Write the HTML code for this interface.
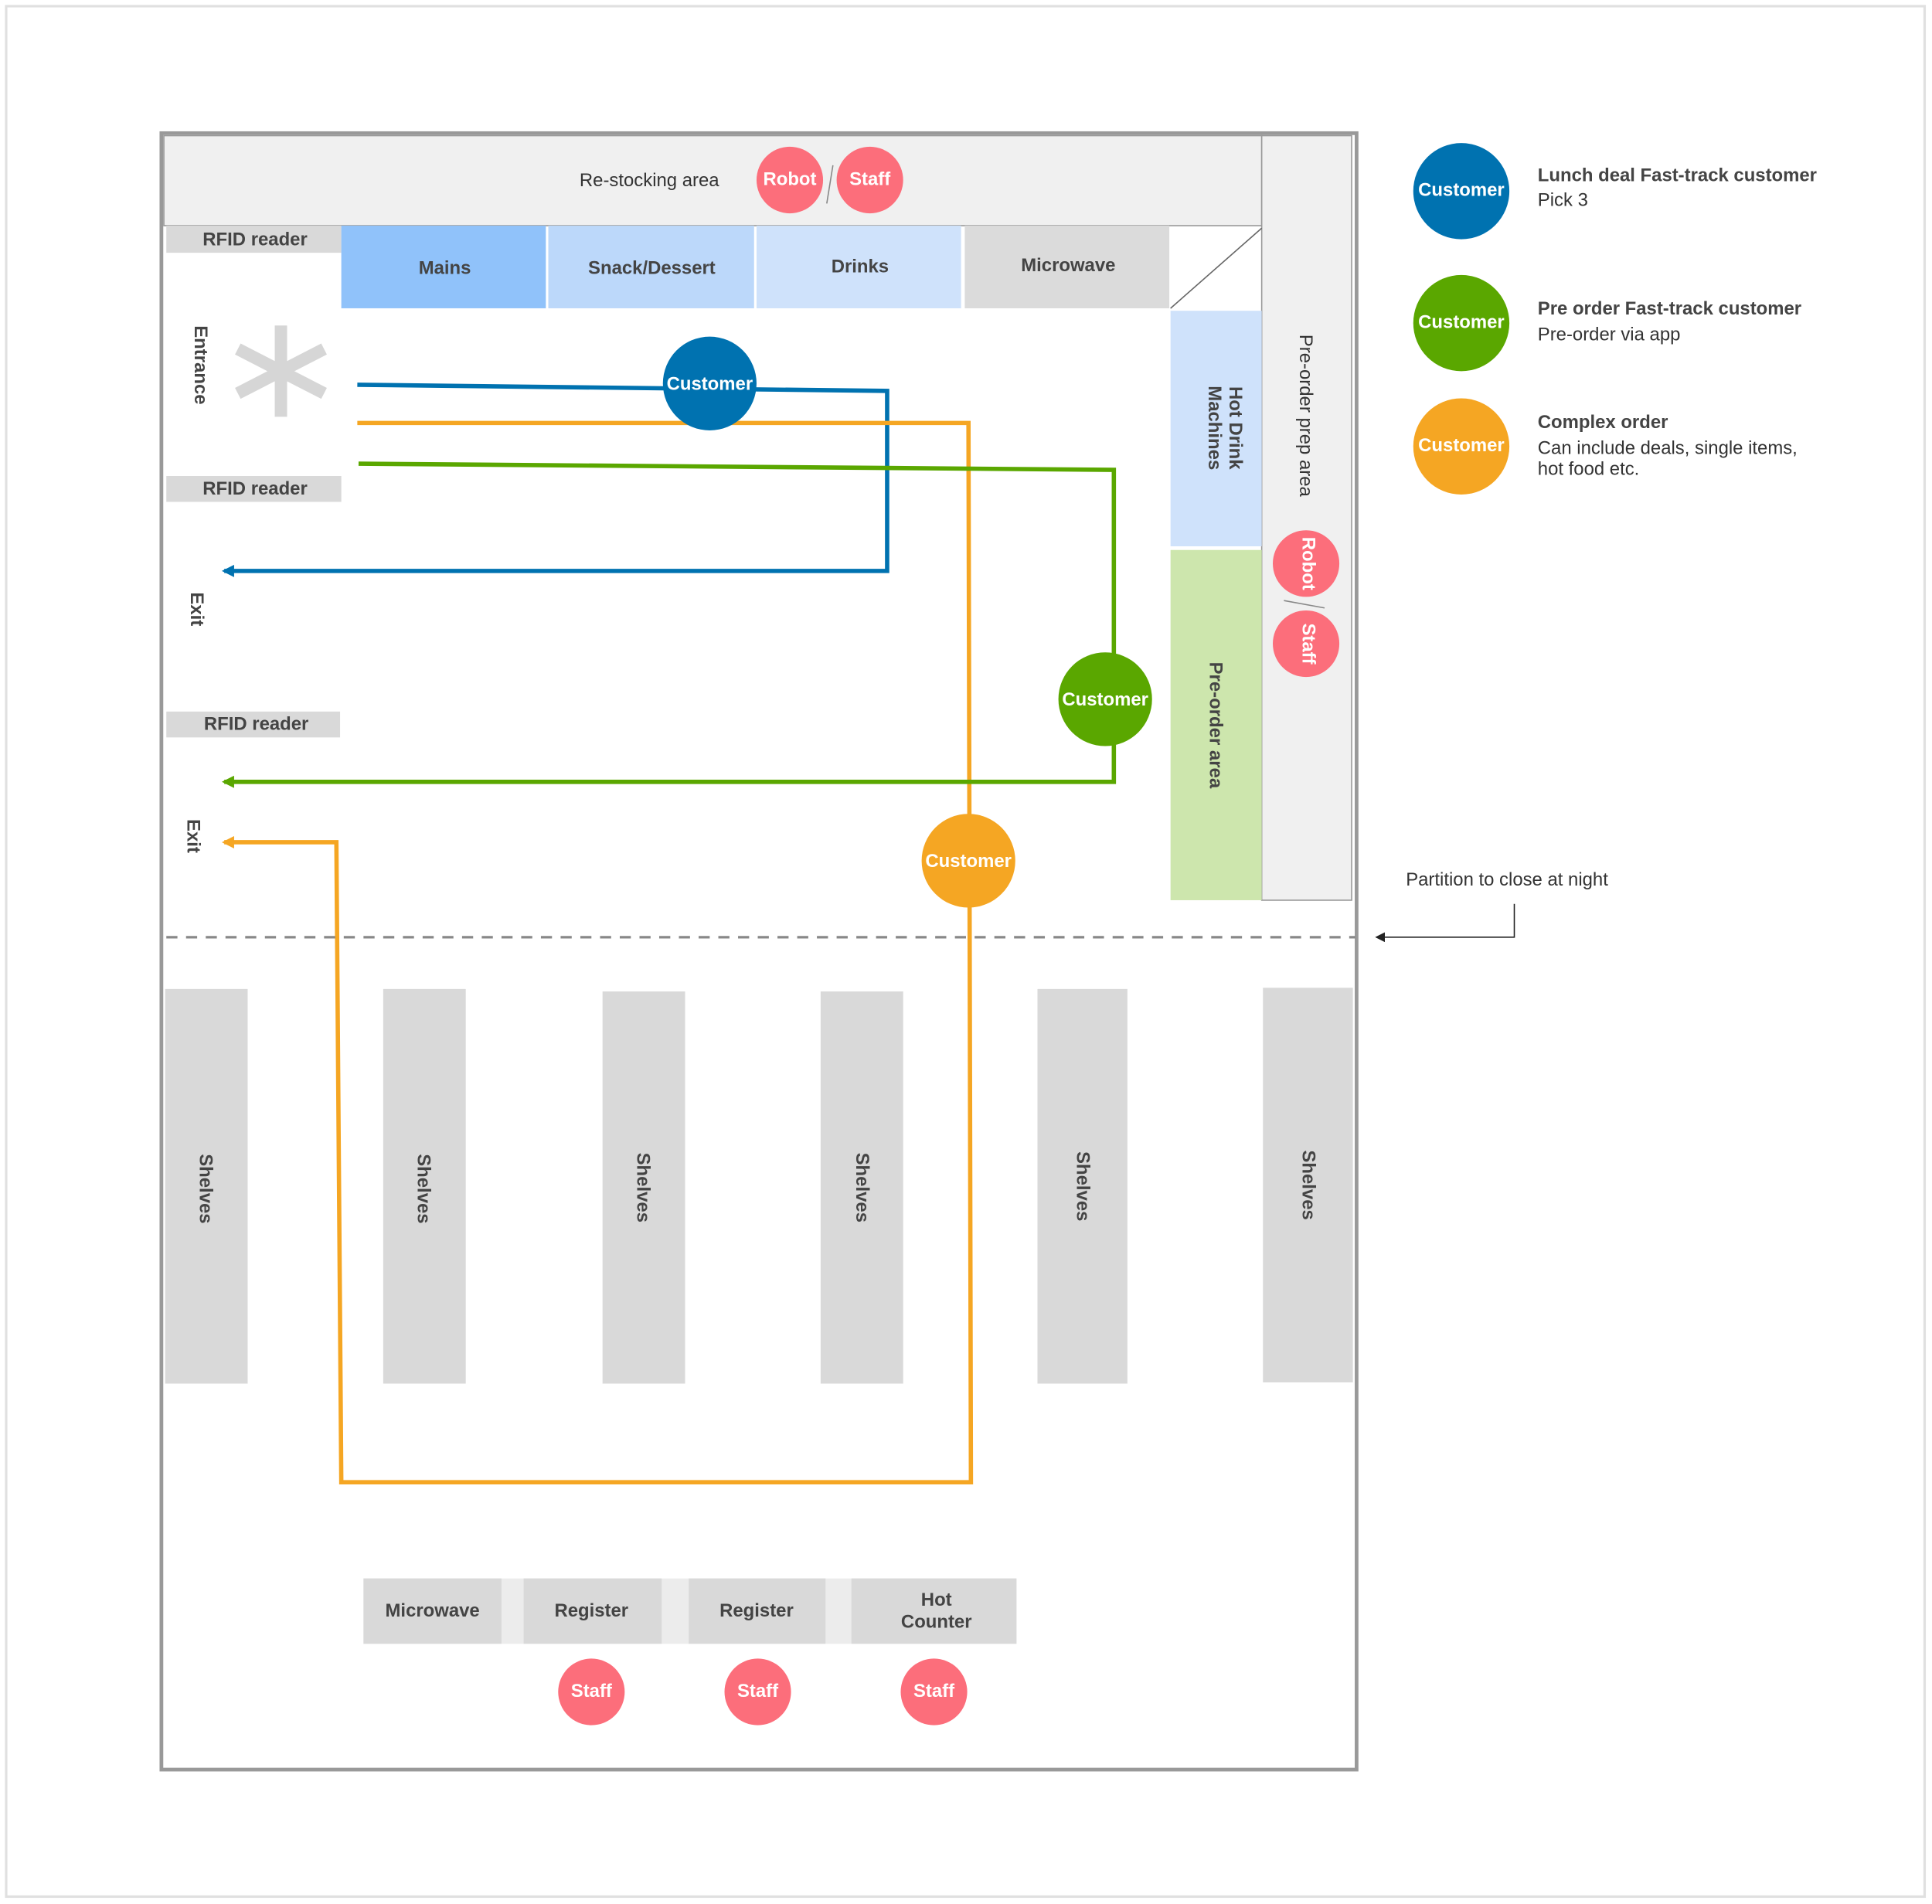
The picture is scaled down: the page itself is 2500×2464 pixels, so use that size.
<!DOCTYPE html>
<html><head><meta charset="utf-8"><style>
html,body{margin:0;padding:0;background:#fff;}
svg{display:block;}
text{font-family:"Liberation Sans",Arial,sans-serif;}
.b{font-weight:bold;fill:#444;font-size:15px;}
.n{fill:#333;font-size:15px;}
.w{font-weight:bold;fill:#fff;font-size:15px;}
</style></head><body>
<svg width="2500" height="2464" viewBox="0 0 1568 1544" preserveAspectRatio="none" xmlns="http://www.w3.org/2000/svg">
<defs>
<marker id="ab" markerWidth="10" markerHeight="10" refX="8" refY="5" orient="auto" markerUnits="userSpaceOnUse"><path d="M0,0 L10,5 L0,10 z" fill="#0072b0"/></marker>
<marker id="ag" markerWidth="10" markerHeight="10" refX="8" refY="5" orient="auto" markerUnits="userSpaceOnUse"><path d="M0,0 L10,5 L0,10 z" fill="#5aa700"/></marker>
<marker id="ao" markerWidth="10" markerHeight="10" refX="8" refY="5" orient="auto" markerUnits="userSpaceOnUse"><path d="M0,0 L10,5 L0,10 z" fill="#f5a623"/></marker>
<marker id="ak" markerWidth="8" markerHeight="8" refX="7" refY="4" orient="auto" markerUnits="userSpaceOnUse"><path d="M0,0 L8,4 L0,8 z" fill="#222"/></marker>
</defs>
<rect x="5" y="5" width="1557" height="1533" fill="#fff" stroke="#e0e0e0" stroke-width="2"/>
<rect x="131" y="108" width="970" height="1327" fill="#fff" stroke="#999" stroke-width="3"/>
<!-- top areas -->
<rect x="133" y="110" width="891" height="73" fill="#f0f0f0" stroke="#999" stroke-width="1"/>
<text x="527" y="151" class="n" text-anchor="middle">Re-stocking area</text>
<circle cx="641" cy="146" r="27" fill="#fc6e7b"/><text x="641" y="150" class="w" text-anchor="middle">Robot</text>
<line x1="676" y1="134" x2="671" y2="165" stroke="#888"/>
<circle cx="706" cy="146" r="27" fill="#fc6e7b"/><text x="706" y="150" class="w" text-anchor="middle">Staff</text>
<rect x="1024" y="110" width="73" height="620" fill="#f0f0f0" stroke="#999" stroke-width="1"/>
<text transform="translate(1055,337) rotate(90)" class="n" text-anchor="middle">Pre-order prep area</text>
<rect x="135" y="183" width="142" height="22" fill="#d9d9d9"/><text x="207" y="199" class="b" text-anchor="middle">RFID reader</text>
<rect x="277" y="183" width="166" height="67" fill="#90c2fa"/><text x="361" y="222" class="b" text-anchor="middle">Mains</text>
<rect x="445" y="183" width="167" height="67" fill="#bcd8fa"/><text x="529" y="222" class="b" text-anchor="middle">Snack/Dessert</text>
<rect x="614" y="183" width="166" height="67" fill="#cfe2fb"/><text x="698" y="221" class="b" text-anchor="middle">Drinks</text>
<rect x="783" y="183" width="166" height="67" fill="#dbdbdb"/><text x="867" y="220" class="b" text-anchor="middle">Microwave</text>
<line x1="950" y1="250" x2="1024" y2="185" stroke="#666" stroke-width="1"/>
<rect x="950" y="252" width="74" height="191" fill="#cfe2fb"/>
<text transform="translate(990,347) rotate(90)" class="b" text-anchor="middle"><tspan x="0" dy="-8">Hot Drink</tspan><tspan x="0" dy="17">Machines</tspan></text>
<rect x="950" y="446" width="74" height="284" fill="#cde6ad"/>
<text transform="translate(982,588) rotate(90)" class="b" text-anchor="middle">Pre-order area</text>
<circle cx="1060" cy="457" r="27" fill="#fc6e7b"/><text transform="translate(1057,457) rotate(90)" class="w" text-anchor="middle">Robot</text>
<line x1="1042" y1="487" x2="1075" y2="493" stroke="#888"/>
<circle cx="1060" cy="522" r="27" fill="#fc6e7b"/><text transform="translate(1057,522) rotate(90)" class="w" text-anchor="middle">Staff</text>
<!-- entrance side -->
<text transform="translate(158,296) rotate(90)" class="b" text-anchor="middle">Entrance</text>
<g stroke="#d6d6d6" stroke-width="10" stroke-linecap="butt">
<line x1="228" y1="264" x2="228" y2="338"/><line x1="193" y1="283" x2="263" y2="319"/><line x1="193" y1="319" x2="263" y2="283"/>
</g>
<rect x="135" y="386" width="142" height="21" fill="#d9d9d9"/><text x="207" y="401" class="b" text-anchor="middle">RFID reader</text>
<text transform="translate(155,494) rotate(90)" class="b" text-anchor="middle">Exit</text>
<rect x="135" y="577" width="141" height="21" fill="#d9d9d9"/><text x="208" y="592" class="b" text-anchor="middle">RFID reader</text>
<text transform="translate(152,678) rotate(90)" class="b" text-anchor="middle">Exit</text>
<!-- paths -->
<polyline points="290,312 720,317 720,463 182,463" fill="none" stroke="#0072b0" stroke-width="3.5" marker-end="url(#ab)"/>
<polyline points="290,343 786,343 788,1202 277,1202 273,683 182,683" fill="none" stroke="#f5a623" stroke-width="3.5" marker-end="url(#ao)"/>
<polyline points="291,376 904,381 904,634 182,634" fill="none" stroke="#5aa700" stroke-width="3.5" marker-end="url(#ag)"/>
<circle cx="576" cy="311" r="38" fill="#0072b0"/><text x="576" y="316" class="w" text-anchor="middle">Customer</text>
<circle cx="897" cy="567" r="38" fill="#5aa700"/><text x="897" y="572" class="w" text-anchor="middle">Customer</text>
<circle cx="786" cy="698" r="38" fill="#f5a623"/><text x="786" y="703" class="w" text-anchor="middle">Customer</text>
<!-- partition -->
<line x1="135" y1="760" x2="1100" y2="760" stroke="#888" stroke-width="2" stroke-dasharray="9,7"/>
<text x="1141" y="718" class="n" font-size="14">Partition to close at night</text>
<polyline points="1229,733 1229,760 1117,760" fill="none" stroke="#222" stroke-width="1" marker-end="url(#ak)"/>
<!-- shelves -->
<g fill="#d9d9d9">
<rect x="134" y="802" width="67" height="320"/><rect x="311" y="802" width="67" height="320"/>
<rect x="489" y="804" width="67" height="318"/><rect x="666" y="804" width="67" height="318"/>
<rect x="842" y="802" width="73" height="320"/><rect x="1025" y="801" width="73" height="320"/>
</g>
<text transform="translate(162,964) rotate(90)" class="b" text-anchor="middle">Shelves</text>
<text transform="translate(339,964) rotate(90)" class="b" text-anchor="middle">Shelves</text>
<text transform="translate(517,963) rotate(90)" class="b" text-anchor="middle">Shelves</text>
<text transform="translate(695,963) rotate(90)" class="b" text-anchor="middle">Shelves</text>
<text transform="translate(874,962) rotate(90)" class="b" text-anchor="middle">Shelves</text>
<text transform="translate(1057,961) rotate(90)" class="b" text-anchor="middle">Shelves</text>
<!-- counters -->
<rect x="295" y="1280" width="530" height="53" fill="#ececec"/>
<rect x="295" y="1280" width="112" height="53" fill="#d9d9d9"/><text x="351" y="1311" class="b" text-anchor="middle">Microwave</text>
<rect x="425" y="1280" width="112" height="53" fill="#d9d9d9"/><text x="480" y="1311" class="b" text-anchor="middle">Register</text>
<rect x="559" y="1280" width="111" height="53" fill="#d9d9d9"/><text x="614" y="1311" class="b" text-anchor="middle">Register</text>
<rect x="691" y="1280" width="134" height="53" fill="#d9d9d9"/>
<text x="760" y="1302" class="b" text-anchor="middle">Hot</text><text x="760" y="1320" class="b" text-anchor="middle">Counter</text>
<circle cx="480" cy="1372" r="27" fill="#fc6e7b"/><text x="480" y="1376" class="w" text-anchor="middle">Staff</text>
<circle cx="615" cy="1372" r="27" fill="#fc6e7b"/><text x="615" y="1376" class="w" text-anchor="middle">Staff</text>
<circle cx="758" cy="1372" r="27" fill="#fc6e7b"/><text x="758" y="1376" class="w" text-anchor="middle">Staff</text>
<!-- legend -->
<circle cx="1186" cy="155" r="39" fill="#0072b0"/><text x="1186" y="159" class="w" text-anchor="middle">Customer</text>
<text x="1248" y="147" class="b">Lunch deal Fast-track customer</text><text x="1248" y="167" class="n" font-size="14">Pick 3</text>
<circle cx="1186" cy="262" r="39" fill="#5aa700"/><text x="1186" y="266" class="w" text-anchor="middle">Customer</text>
<text x="1248" y="255" class="b">Pre order Fast-track customer</text><text x="1248" y="276" class="n" font-size="14">Pre-order via app</text>
<circle cx="1186" cy="362" r="39" fill="#f5a623"/><text x="1186" y="366" class="w" text-anchor="middle">Customer</text>
<text x="1248" y="347" class="b">Complex order</text>
<text x="1248" y="368" class="n" font-size="14">Can include deals, single items,</text>
<text x="1248" y="385" class="n" font-size="14">hot food etc.</text>
</svg>
</body></html>
